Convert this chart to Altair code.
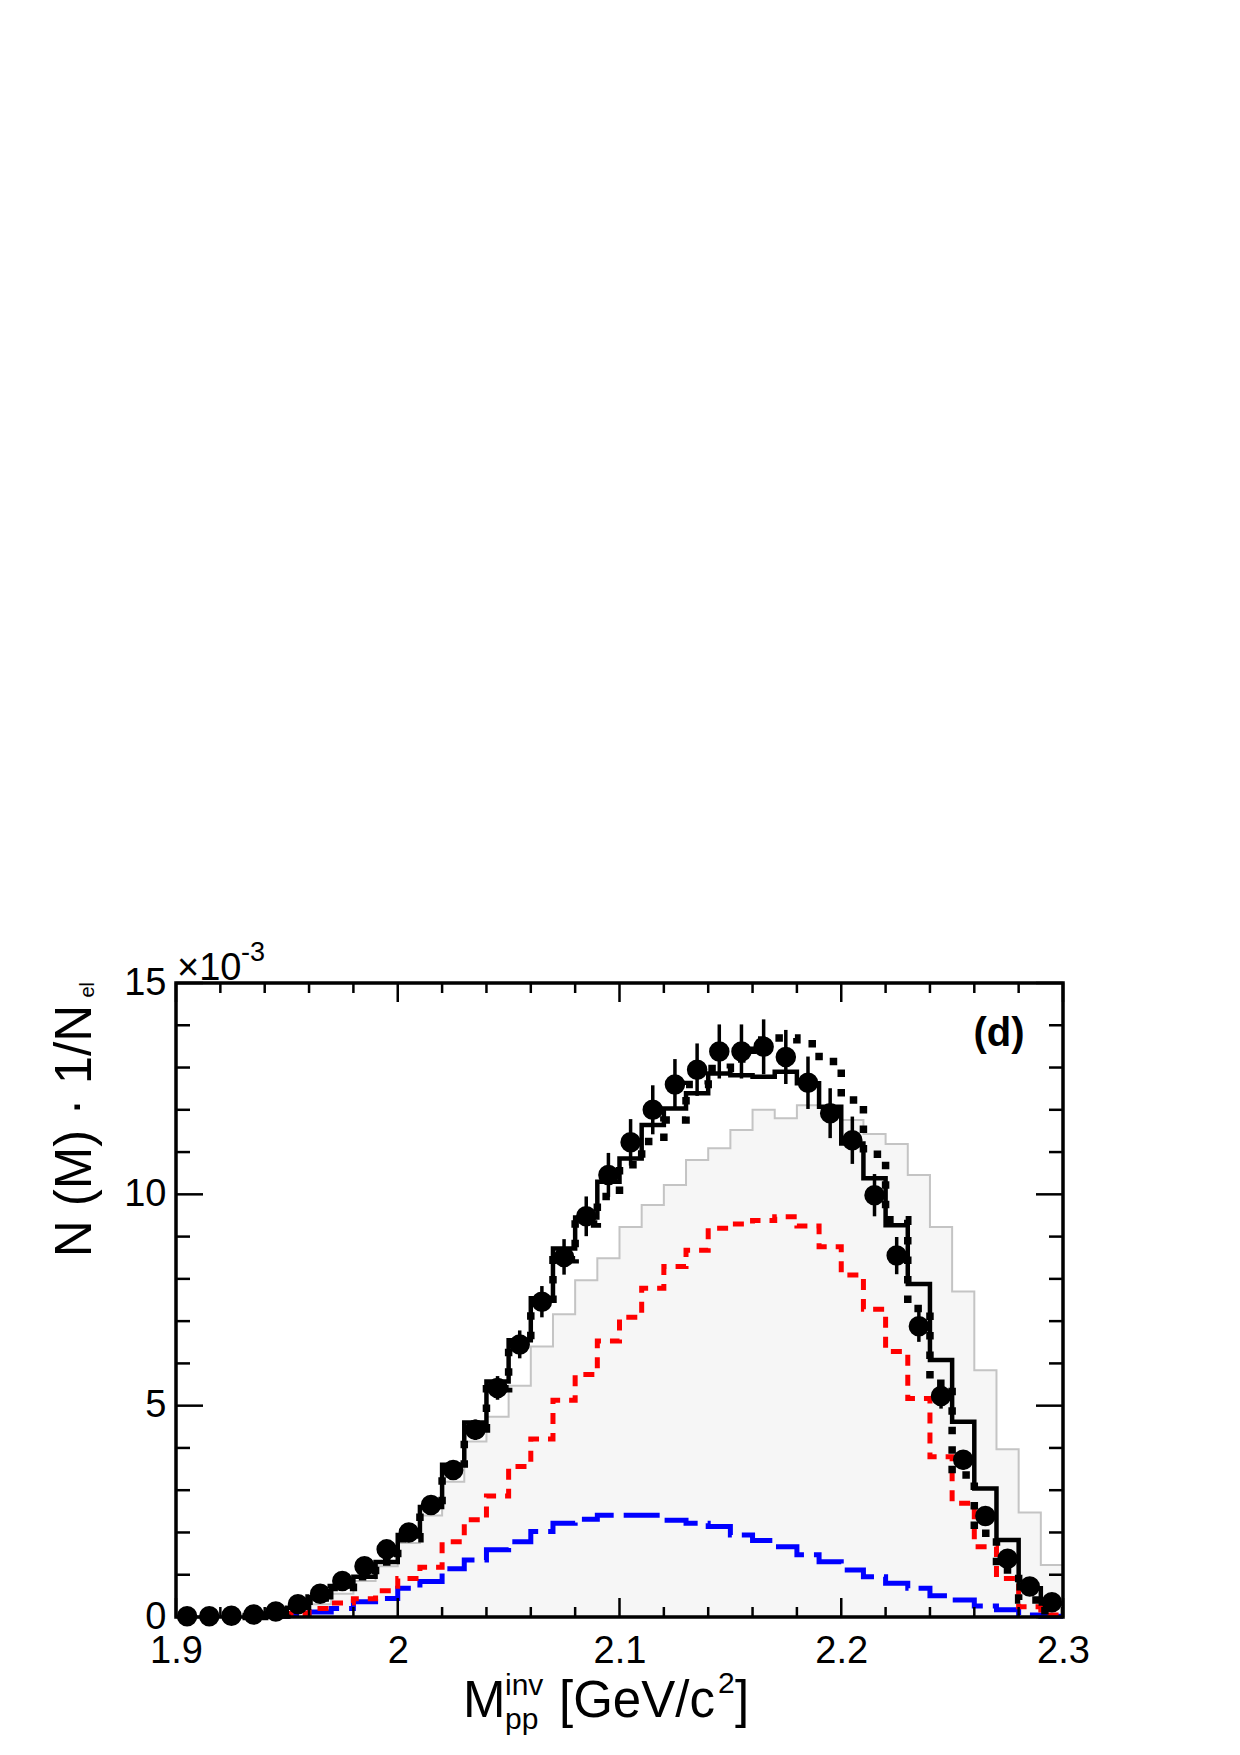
import altair as alt
import pandas as pd

# ---------------- data (values in units of 1e-3) ----------------
bin_lo = [1.90, 1.91, 1.92, 1.93, 1.94, 1.95, 1.96, 1.97, 1.98, 1.99,
          2.00, 2.01, 2.02, 2.03, 2.04, 2.05, 2.06, 2.07, 2.08, 2.09,
          2.10, 2.11, 2.12, 2.13, 2.14, 2.15, 2.16, 2.17, 2.18, 2.19,
          2.20, 2.21, 2.22, 2.23, 2.24, 2.25, 2.26, 2.27, 2.28, 2.29]
x_max = 2.30
bin_mid = [1.905, 1.915, 1.925, 1.935, 1.945, 1.955, 1.965, 1.975, 1.985, 1.995,
           2.005, 2.015, 2.025, 2.035, 2.045, 2.055, 2.065, 2.075, 2.085, 2.095,
           2.105, 2.115, 2.125, 2.135, 2.145, 2.155, 2.165, 2.175, 2.185, 2.195,
           2.205, 2.215, 2.225, 2.235, 2.245, 2.255, 2.265, 2.275, 2.285, 2.295]

data_val = [0.02, 0.02, 0.03, 0.06, 0.13, 0.30, 0.55, 0.85, 1.20, 1.60,
            2.00, 2.65, 3.48, 4.43, 5.42, 6.45, 7.46, 8.52, 9.48, 10.46,
            11.23, 12.00, 12.60, 12.95, 13.38, 13.38, 13.49, 13.25, 12.64, 11.92,
            11.28, 9.98, 8.55, 6.88, 5.23, 3.72, 2.39, 1.38, 0.72, 0.35]
data_err = [0.01, 0.01, 0.01, 0.02, 0.03, 0.05, 0.07, 0.08, 0.10, 0.12,
            0.14, 0.17, 0.20, 0.24, 0.28, 0.33, 0.37, 0.42, 0.47, 0.52,
            0.55, 0.58, 0.60, 0.62, 0.64, 0.64, 0.65, 0.64, 0.62, 0.59,
            0.56, 0.50, 0.44, 0.37, 0.30, 0.23, 0.17, 0.12, 0.08, 0.05]

model_total = [None, None, None, 0.01, 0.05, 0.22, 0.47, 0.72, 0.95, 1.30,
               1.94, 2.60, 3.60, 4.60, 5.57, 6.55, 7.54, 8.72, 9.45, 10.30,
               10.85, 11.64, 12.03, 12.39, 12.86, 12.82, 12.78, 12.90, 12.63, 12.07,
               11.20, 10.38, 9.27, 7.88, 6.08, 4.62, 3.04, 1.82, 0.68, 0.32]
model_dotted = [None, None, None, 0.01, 0.05, 0.20, 0.45, 0.70, 0.95, 1.30,
                1.85, 2.55, 3.45, 4.45, 5.40, 6.40, 7.40, 8.45, 9.30, 9.95,
                10.70, 11.25, 11.76, 12.60, 12.98, 13.20, 13.65, 13.70, 13.56, 13.14,
                12.23, 10.95, 9.40, 7.30, 5.53, 3.36, 1.98, 1.11, 0.40, 0.15]
model_grey = [None, None, None, 0.02, 0.05, 0.12, 0.30, 0.55, 0.85, 1.20,
              1.75, 2.40, 3.20, 4.15, 4.74, 5.47, 6.40, 7.16, 7.97, 8.49,
              9.23, 9.75, 10.22, 10.81, 11.09, 11.52, 12.00, 11.80, 12.11, 12.07,
              11.76, 11.43, 11.19, 10.46, 9.23, 7.70, 5.84, 3.97, 2.47, 1.23]
model_red = [None, None, None, None, 0.03, 0.08, 0.20, 0.33, 0.43, 0.62,
             0.91, 1.18, 1.78, 2.30, 2.86, 3.56, 4.21, 5.13, 5.74, 6.53,
             7.09, 7.78, 8.29, 8.68, 9.20, 9.30, 9.38, 9.47, 9.25, 8.76,
             8.09, 7.28, 6.28, 5.17, 3.79, 2.69, 1.66, 0.91, 0.24, 0.05]
model_blue = [None, None, None, None, 0.02, 0.06, 0.12, 0.20, 0.36, 0.44,
              0.68, 0.84, 1.14, 1.35, 1.59, 1.78, 2.02, 2.22, 2.31, 2.41,
              2.41, 2.41, 2.29, 2.22, 2.14, 1.94, 1.81, 1.66, 1.47, 1.31,
              1.11, 0.95, 0.80, 0.68, 0.50, 0.40, 0.26, 0.17, 0.05, 0.02]

x_major = [1.9, 2.0, 2.1, 2.2, 2.3]
x_minor = [1.92, 1.94, 1.96, 1.98, 2.02, 2.04, 2.06, 2.08, 2.12, 2.14, 2.16, 2.18,
           2.22, 2.24, 2.26, 2.28]
y_major = [0, 5, 10, 15]
y_minor = [1, 2, 3, 4, 6, 7, 8, 9, 11, 12, 13, 14]

# ---------------- layout ----------------
W, H = 887, 634
FONT = "Liberation Sans"


def step_df(vals):
    xs, ys = [], []
    for e, v in zip(bin_lo, vals):
        if v is None:
            continue
        xs.append(e)
        ys.append(v)
    xs.append(x_max)
    ys.append(ys[-1])
    return pd.DataFrame({"x": xs, "y": ys})


xscale = alt.Scale(domain=[1.9, 2.3], nice=False, zero=False)
yscale = alt.Scale(domain=[0, 15], nice=False, zero=False)
xaxis = alt.Axis(values=x_major, format="~g", title=None, ticks=False, tickSize=0,
                 domain=False, grid=False, labelFontSize=38, labelFont=FONT,
                 labelColor="black", labelPadding=15, labelFlush=False,
                 labelOverlap=False, labelBound=False)
yaxis = alt.Axis(values=y_major, format="d", title=None, ticks=False, tickSize=0,
                 domain=False, grid=False, labelFontSize=38, labelFont=FONT,
                 labelColor="black", labelPadding=10, labelFlush=False,
                 labelOverlap=False, labelBound=False)


def X(field="x"):
    return alt.X(f"{field}:Q", scale=xscale, axis=xaxis)


def Y(field="y"):
    return alt.Y(f"{field}:Q", scale=yscale, axis=yaxis)


layers = []

# grey filled model
gdf = step_df(model_grey)
layers.append(alt.Chart(gdf).mark_area(interpolate="step-after", color="#f6f6f6")
              .encode(x=X(), y=Y()))
layers.append(alt.Chart(gdf).mark_line(interpolate="step-after", color="#c4c4c4",
                                       strokeWidth=2).encode(x=X(), y=Y()))
# blue long dashed
layers.append(alt.Chart(step_df(model_blue)).mark_line(
    interpolate="step-after", color="#0000ff", strokeWidth=5,
    strokeDash=[36, 10], strokeCap="butt").encode(x=X(), y=Y()))
# red dashed
layers.append(alt.Chart(step_df(model_red)).mark_line(
    interpolate="step-after", color="#ff0000", strokeWidth=5,
    strokeDash=[11, 9], strokeCap="butt").encode(x=X(), y=Y()))
# black dotted
layers.append(alt.Chart(step_df(model_dotted)).mark_line(
    interpolate="step-after", color="black", strokeWidth=7.5,
    strokeDash=[7.5, 12], strokeCap="butt").encode(x=X(), y=Y()))
# black solid
layers.append(alt.Chart(step_df(model_total)).mark_line(
    interpolate="step-after", color="black", strokeWidth=4.5).encode(x=X(), y=Y()))

# data points with error bars
pdf = pd.DataFrame({"x": bin_mid, "y": data_val,
                    "lo": [v - e for v, e in zip(data_val, data_err)],
                    "hi": [v + e for v, e in zip(data_val, data_err)]})
layers.append(alt.Chart(pdf).mark_rule(color="black", strokeWidth=3.5)
              .encode(x=X(), y=Y("lo"), y2="hi:Q"))
layers.append(alt.Chart(pdf).mark_circle(color="black", opacity=1, size=420)
              .encode(x=X(), y=Y()))

# inward ticks
def xticks(vals, length):
    d = pd.DataFrame({"x": vals})
    bot = alt.Chart(d).mark_rule(color="black", strokeWidth=2.5).encode(
        x=X(), y=alt.value(H), y2=alt.value(H - length))
    top = alt.Chart(d).mark_rule(color="black", strokeWidth=2.5).encode(
        x=X(), y=alt.value(0), y2=alt.value(length))
    return [bot, top]


def yticks(vals, length):
    d = pd.DataFrame({"y": vals})
    left = alt.Chart(d).mark_rule(color="black", strokeWidth=2.5).encode(
        y=Y(), x=alt.value(0), x2=alt.value(length))
    right = alt.Chart(d).mark_rule(color="black", strokeWidth=2.5).encode(
        y=Y(), x=alt.value(W), x2=alt.value(W - length))
    return [left, right]


layers += xticks(x_major, 19) + xticks(x_minor, 10)
layers += yticks(y_major, 27) + yticks(y_minor, 14)

# frame drawn on top of everything
frame = pd.DataFrame({"x0": [1.9], "x1": [2.3], "y0": [0], "y1": [15]})
layers.append(alt.Chart(frame).mark_rect(fill=None, stroke="black", strokeWidth=3.5)
              .encode(x=X("x0"), x2="x1:Q", y=Y("y0"), y2="y1:Q"))

# ---------------- texts ----------------
def label(text, x, y, size, align="left", baseline="alphabetic", angle=0, weight="normal"):
    d = pd.DataFrame({"t": [text]})
    kw = dict(font=FONT, fontSize=size, align=align, baseline=baseline,
              color="black", fontWeight=weight)
    if angle:
        kw["angle"] = angle
    return alt.Chart(d).mark_text(**kw).encode(
        text="t:N", x=alt.value(x), y=alt.value(y))


# y title
layers.append(label("N (M) \u00b7 1/N", -85, 22, 51, align="right", angle=270))
layers.append(label("el", -82, -1, 20, align="right", angle=270))
# x title
layers.append(label("M", 287, 734, 51))
layers.append(label("inv", 329, 712, 30))
layers.append(label("pp", 329, 746, 30))
layers.append(label("[GeV/c", 383, 734, 51))
layers.append(label("2", 542, 710, 30))
layers.append(label("]", 559, 734, 51))
# multiplier
layers.append(label("\u00d710", 1, -3, 38))
layers.append(label("-3", 65, -22, 27))
# panel tag
layers.append(label("(d)", 823, 63, 40, align="center", weight="bold"))

chart = alt.layer(*layers).properties(
    width=W, height=H,
    padding={"left": 176, "top": 983, "right": 177, "bottom": 138},
    autosize=alt.AutoSizeParams(type="none"),
).configure_view(stroke=None).configure(background="white")

chart.save("out.html", embed_options={"renderer": "svg", "actions": False})
